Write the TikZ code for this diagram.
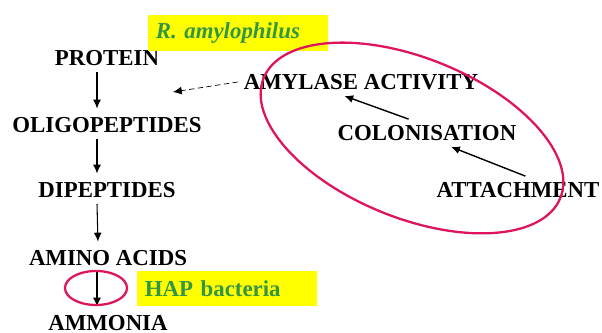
\documentclass[tikz,border=0pt]{standalone}
\usepackage{fontspec}
\setmainfont{Liberation Serif}
\usetikzlibrary{arrows.meta}
\definecolor{hapgreen}{RGB}{50,150,70}
\definecolor{ringred}{RGB}{222,20,95}
\definecolor{tagyellow}{RGB}{255,255,0}
\tikzset{
	tagbox/.style={fill=tagyellow, anchor=west, text width=3.3cm, inner xsep=0.15cm, minimum height=0.72cm, align=left, text=hapgreen},
	ring/.style={ringred, line width=1.3pt},
	flow/.style={->, semithick, shorten >=1.5pt}
}

\begin{document}
\begin{tikzpicture}[x=0.02cm, y=-0.02cm, >={Latex[length=5pt, width=4.5pt]}, font=\fontsize{13}{15}\selectfont\bfseries]
	\useasboundingbox (0,0) rectangle (602,333);
	\node (pr) at (107,58) {PROTEIN};
	\node (ol) at (107,125) {OLIGOPEPTIDES};
	\node (dp) at (107,190) {DIPEPTIDES};
	\node (aa) at (108,258) {AMINO ACIDS};
	\node (amm) at (108,323) {AMMONIA};
	\node (amy) at (361,82) {AMYLASE ACTIVITY};
	\node (co) at (427,133) {COLONISATION};
	\node (at) at (518,190) {ATTACHMENT};
	\node[tagbox] (rumen) at (148,33) {\itshape R. amylophilus};
	\node[tagbox, minimum height=0.7cm] (hap) at (137,289) {HAP bacteria};
	\coordinate (amytip) at (173,92);
	\draw[flow] ([xshift=-0.2cm]pr.south) -- ([xshift=-0.2cm]ol.north);
	\draw[flow] ([xshift=-0.2cm]ol.south) -- ([xshift=-0.2cm]dp.north);
	\draw[flow] ([xshift=-0.2cm]dp.south) -- ([xshift=-0.2cm]aa.north);
	\draw[flow] ([xshift=-0.22cm]aa.south) -- ([xshift=-0.22cm]amm.north);
	\draw[->, thin, densely dashed] (amy.west) -- (amytip);
	\draw[->, thick] (co.143) -- (amy.220);
	\draw[->, thick] (at.62) -- (co.330);
	\draw[ring] (96,288) ellipse (31 and 17);
	\draw[ring, rotate around={-22:(412,138)}] (412,138) ellipse (160 and 80);
\end{tikzpicture}
\end{document}
